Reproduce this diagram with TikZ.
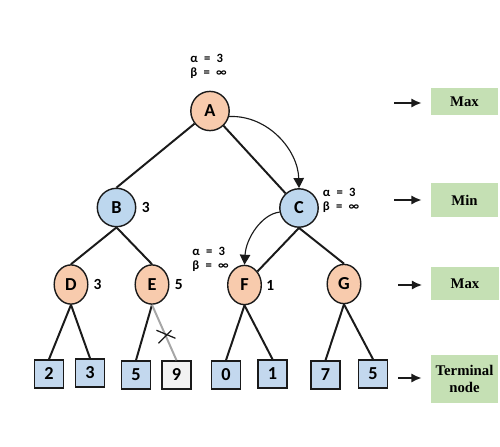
\documentclass[tikz,border=0pt]{standalone}
\usepackage{fontspec}
\setmainfont{Carlito}
\newfontfamily\levelfont{Liberation Serif}
\usetikzlibrary{positioning,shapes.geometric,arrows.meta}

\definecolor{maxfill}{HTML}{F8CBAD}
\definecolor{minfill}{HTML}{BDD7EE}
\definecolor{leaffill}{HTML}{C3D8EE}
\definecolor{cutfill}{HTML}{F2F2F2}
\definecolor{levelfill}{HTML}{C5E0B4}
\definecolor{ink}{HTML}{1A1A1A}

\begin{document}
\begin{tikzpicture}[x=0.025cm,y=-0.025cm,
    maxnode/.style={ellipse,draw=ink,line width=1pt,fill=maxfill,minimum width=0.84cm,minimum height=0.98cm,inner sep=0pt,font=\fontsize{13}{15}\selectfont\bfseries},
    minnode/.style={circle,draw=ink,line width=1pt,fill=minfill,minimum size=0.96cm,inner sep=0pt,font=\fontsize{13}{15}\selectfont\bfseries},
    leaf/.style={rectangle,draw=ink,line width=1.1pt,fill=leaffill,minimum width=0.72cm,minimum height=0.7cm,inner sep=0pt,font=\fontsize{13}{15}\selectfont\bfseries},
    edge/.style={draw=ink,line width=1.4pt},
    val/.style={inner sep=0pt,font=\fontsize{11}{13}\selectfont\bfseries},
    ab/.style={inner sep=0pt,align=left,font=\fontsize{9}{10}\selectfont\bfseries},
    level/.style={rectangle,fill=levelfill,minimum width=1.68cm,inner sep=2pt,align=center,font=\levelfont\fontsize{10.5}{11.5}\selectfont\bfseries},
    levelarrow/.style={draw=ink,line width=1.5pt,-{Latex[length=2.6mm,width=2.3mm]},shorten >=0.22cm},
    search/.style={draw=ink,line width=0.8pt,-{Triangle[length=2.5mm,width=2.6mm]}}]

    \useasboundingbox (0,0) rectangle (500,447);

    % tree nodes
    \node [maxnode,minimum width=0.96cm] (A) at (210,111) {A};
    \node [minnode] (B) at (116.5,207.5) {B};
    \node [minnode] (C) at (299,208) {C};
    \node [maxnode] (D) at (71,284.5) {D};
    \node [maxnode] (E) at (152,284.5) {E};
    \node [maxnode] (F) at (244.5,285) {F};
    \node [maxnode] (G) at (344,284) {G};

    % terminal values
    \node [leaf] (l2) at (49,374) {2};
    \node [leaf] (l3) at (90,373) {3};
    \node [leaf] (l5a) at (136,375) {5};
    \node [leaf,fill=cutfill] (l9) at (176.5,375) {9};
    \node [leaf] (l0) at (226,375) {0};
    \node [leaf] (l1) at (272.5,374) {1};
    \node [leaf] (l7) at (325.5,375) {7};
    \node [leaf] (l5b) at (373,374) {5};

    % backed-up values
    \node [val,right=0.13cm of B] (vB) {3};
    \node [val,right=0.12cm of D] (vD) {3};
    \node [val,right=0.13cm of E] (vE) {5};
    \node [val,right=0.1cm of F] (vF) {1};

    % alpha beta
    \node [ab,anchor=west] (abA) at (190,66) {α\enspace=\enspace3\\β\enspace=\enspace∞};
    \node [ab,anchor=west] (abC) at (322.5,200) {α\enspace=\enspace3\\β\enspace=\enspace∞};
    \node [ab,anchor=west] (abF) at (192,259) {α\enspace=\enspace3\\β\enspace=\enspace∞};

    % edges
    \draw[edge] (A) -- (B.north);
    \draw[edge] (A) -- (C);
    \draw[edge] (B.south) -- (D.north);
    \draw[edge] (B.south) -- (E.north);
    \draw[edge] (C.south) -- (F);
    \draw[edge] (C.south) -- (G.north);
    \draw[edge] (D.south) -- (l2.north);
    \draw[edge] (D.south) -- (l3.north);
    \draw[edge] (E.south) -- (l5a.north);
    \draw[line width=1.4pt,gray!70] (E.south) -- coordinate[pos=0.55] (cut) (l9.north);
    \draw[edge] (F.south) -- (l0.north);
    \draw[edge] (F.south) -- (l1.north);
    \draw[edge] (G.south) -- (l7.north);
    \draw[edge] (G.south) -- (l5b.north);

    % pruned branch
    \draw[draw=ink,line width=0.9pt] ([shift={(-7,8)}]cut) -- ([shift={(6,-5)}]cut);
    \draw[draw=ink,line width=0.9pt] ([shift={(-9,-5)}]cut) -- ([shift={(10,3)}]cut);

    % search path
    \draw[search] (A.-16) .. controls (268,115) and (298,150) .. (C.north);
    \draw[search] (C.192) .. controls (262,214) and (246,238) .. (F.north);

    % levels
    \node [level,minimum height=0.68cm] (L1) at (464.5,101.5) {Max};
    \node [level,minimum height=0.85cm] (L2) at (464.5,200) {Min};
    \node [level,minimum height=0.83cm] (L3) at (465,283.5) {Max};
    \node [level,minimum height=1.2cm] (L4) at (464.5,379) {Terminal\\node};

    \coordinate (s1) at (394,103);
    \coordinate (s2) at (394,200);
    \coordinate (s3) at (398,285);
    \coordinate (s4) at (398,378);
    \draw[levelarrow] (s1) -- (L1.west |- s1);
    \draw[levelarrow] (s2) -- (L2.west |- s2);
    \draw[levelarrow] (s3) -- (L3.west |- s3);
    \draw[levelarrow] (s4) -- (L4.west |- s4);
\end{tikzpicture}
\end{document}
